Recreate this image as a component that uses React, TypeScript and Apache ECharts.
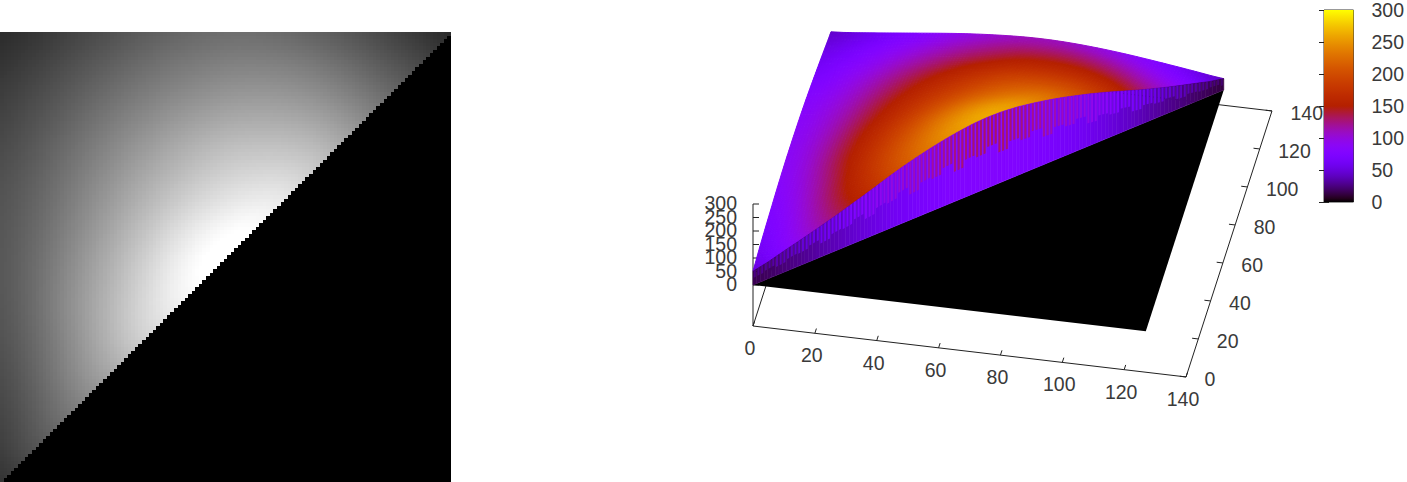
import React, { useEffect, useRef } from "react";
import * as echarts from "echarts";

// Grey level at knots every 1/16 of the data range.
// rowJ[i] is the value at column i of row J (i <= J); the half below the diagonal is 0.
const row0 = [48];
const row1 = [58, 80];
const row2 = [65, 85, 108];
const row3 = [70, 90, 115, 138];
const row4 = [75, 95, 122, 150, 172];
const row5 = [80, 99, 125, 155, 184, 210];
const row6 = [83, 102, 130, 158, 187, 214, 238];
const row7 = [85, 103, 129, 156, 183, 211, 238, 258];
const row8 = [85, 102, 125, 151, 177, 203, 231, 253, 268];
const row9 = [84, 99, 120, 143, 167, 191, 215, 237, 252, 260];
const row10 = [82, 96, 114, 136, 157, 178, 197, 215, 228, 236, 238];
const row11 = [78, 91, 108, 127, 146, 165, 181, 196, 208, 214, 215, 208];
const row12 = [72, 85, 101, 118, 135, 151, 166, 179, 189, 192, 192, 187, 174];
const row13 = [65, 78, 91, 107, 122, 135, 148, 158, 166, 169, 168, 163, 152, 135];
const row14 = [58, 70, 82, 95, 108, 120, 130, 138, 145, 147, 146, 140, 130, 115, 100];
const row15 = [50, 60, 71, 83, 94, 105, 114, 121, 126, 127, 125, 119, 109, 96, 82, 70];
const row16 = [42, 50, 60, 70, 80, 90, 98, 104, 108, 108, 104, 97, 88, 77, 65, 52, 38];
const knotRows = [row0, row1, row2, row3, row4, row5, row6, row7, row8, row9, row10, row11, row12, row13, row14, row15, row16];

const xTicks = [0, 20, 40, 60, 80, 100, 120, 140];
const yTicks = [0, 20, 40, 60, 80, 100, 120, 140];
const zTicks = [0, 50, 100, 150, 200, 250, 300];
const stripeDepths = [0.5, 0.42, 0.56, 0.46];

const SIZE = 127;
const KNOT_STEP = SIZE / 16;
const FONT_SIZE = 19.5;
const FONT_FAMILY = '"Liberation Sans", Arial, sans-serif';
const FONT = `${FONT_SIZE}px ${FONT_FAMILY}`;
const INK = "#3a3a3a";

const knot = (i: number, j: number) => knotRows[j][i];

function linearAt(x: number, y: number) {
  const a = Math.min(x / KNOT_STEP, 16);
  const b = Math.min(y / KNOT_STEP, 16);
  const i = Math.min(Math.floor(a), 15);
  const j = Math.min(Math.floor(b), 15);
  const fa = a - i;
  const fb = b - j;
  if (i === j) {
    const f = Math.max(fb, fa);
    const g = Math.min(fa, fb);
    return knot(i, i) * (1 - f) + knot(i, i + 1) * (f - g) + knot(i + 1, i + 1) * g;
  }
  return (
    knot(i, j) * (1 - fa) * (1 - fb) +
    knot(i + 1, j) * fa * (1 - fb) +
    knot(i, j + 1) * (1 - fa) * fb +
    knot(i + 1, j + 1) * fa * fb
  );
}

// Surface shading between the knots: a small tent blur that hides the creases of the mesh.
const blurWeights = [1, 2, 1];
const shadeCache = new Map<number, number>();
function valueAt(x: number, y: number) {
  const key = Math.round(x * 4) * 100000 + Math.round(y * 4);
  const hit = shadeCache.get(key);
  if (hit !== undefined) return hit;
  const reach = KNOT_STEP * 0.5;
  let sum = 0;
  let weight = 0;
  for (let p = -1; p <= 1; p++) {
    for (let q = -1; q <= 1; q++) {
      let sx = Math.min(SIZE, Math.max(0, x + p * reach));
      let sy = Math.min(SIZE, Math.max(0, y + q * reach));
      if (sx > sy) [sx, sy] = [sy, sx];
      const w = blurWeights[p + 1] * blurWeights[q + 1];
      sum += linearAt(sx, sy) * w;
      weight += w;
    }
  }
  const v = sum / weight;
  shadeCache.set(key, v);
  return v;
}

function palette(v: number) {
  const g = Math.max(0, Math.min(1, v / 300));
  const r = Math.round(255 * Math.sqrt(g));
  const gr = Math.round(255 * g * g * g);
  const b = Math.round(255 * Math.max(0, Math.sin(2 * Math.PI * g)));
  return `rgb(${r},${gr},${b})`;
}

// gnuplot's oblique 3D view
const project = (x: number, y: number, z: number): [number, number] => [
  753 + 3.093 * x + 0.614 * y,
  285 + 0.364 * x - 1.9 * y - 0.27 * z,
];
const projectBase = (x: number, y: number): [number, number] => {
  const p = project(x, y, 0);
  return [p[0], p[1] + 41];
};

const line = (a: [number, number], b: [number, number]) => ({
  type: "line",
  shape: { x1: a[0], y1: a[1], x2: b[0], y2: b[1] },
  style: { stroke: "#222", lineWidth: 1 },
});
const label = (text: string, x: number, y: number, align: string) => ({
  type: "text",
  style: { text, x, y, font: FONT, fill: INK, align, verticalAlign: "middle" },
});

function axesGroup() {
  const children: any[] = [];
  children.push(line([753, 326], [753, project(0, 0, 300)[1]]));
  children.push(line(projectBase(0, 0), projectBase(140, 0)));
  children.push(line(projectBase(140, 0), projectBase(140, 140)));
  children.push(line(projectBase(0, 0), projectBase(0, 140)));
  children.push(line(projectBase(0, 140), projectBase(140, 140)));
  zTicks.forEach((z) => {
    const p = project(0, 0, z);
    children.push(line([753, p[1]], [759, p[1]]));
    children.push(label(String(z), 737, p[1] - 1, "right"));
  });
  xTicks.forEach((x) => {
    const p = projectBase(x, 0);
    children.push(line(p, projectBase(x, 2.5)));
    children.push(label(String(x), p[0] - 3, p[1] + 22, "center"));
  });
  yTicks.forEach((y) => {
    const p = projectBase(140, y);
    children.push(line(p, projectBase(138, y)));
    children.push(label(String(y), p[0] + 18.5, p[1] + 2, "left"));
  });
  return { type: "group", children };
}

function poly(points: [number, number][], fill: string, stroke = 1) {
  return {
    type: "polygon",
    shape: { points },
    style: { fill, stroke: stroke ? fill : "none", lineWidth: stroke },
  };
}

// Marks of the 3D panel, far to near.
type Mark = { kind: string; i: number; j: number };
const surfaceMarks: Mark[] = [{ kind: "axes", i: 0, j: 0 }, { kind: "floor", i: 0, j: 0 }];
for (let j = SIZE - 1; j >= 0; j--) {
  for (let i = 0; i <= j; i++) surfaceMarks.push({ kind: i === j ? "tip" : "cell", i, j });
}
for (let k = 0; k < SIZE; k++) surfaceMarks.push({ kind: "wall", i: k, j: k });
for (let k = 0; k < SIZE; k++) surfaceMarks.push({ kind: "stripe", i: k, j: k });

function renderSurface(params: any) {
  const m = surfaceMarks[params.dataIndex];
  const { i, j } = m;
  const at = (x: number, y: number) => project(x, y, valueAt(x, y));
  if (m.kind === "axes") return axesGroup();
  if (m.kind === "floor")
    return poly([project(0, 0, 0), project(SIZE, 0, 0), project(SIZE, SIZE, 0)], "#000", 0);
  if (m.kind === "cell") {
    return poly([at(i, j), at(i + 1, j), at(i + 1, j + 1), at(i, j + 1)], palette(valueAt(i + 0.5, j + 0.5)));
  }
  if (m.kind === "tip") {
    return poly([at(i, j), at(i + 1, j + 1), at(i, j + 1)], palette(valueAt(i + 0.25, j + 0.75)));
  }
  const v0 = valueAt(i, i);
  const v1 = valueAt(i + 1, i + 1);
  if (m.kind === "wall") {
    return poly(
      [project(i, i, v0), project(i + 1, i + 1, v1), project(i + 1, i + 1, 0), project(i, i, 0)],
      palette(((v0 + v1) / 2) * 0.3),
      0.6
    );
  }
  const a = i + 0.2;
  const b = i + 0.75;
  const depth = stripeDepths[Math.floor(i / 3) % stripeDepths.length];
  const va = valueAt(i + 0.25, i + 0.25);
  const vb = valueAt(i + 0.75, i + 0.75);
  return poly(
    [project(a, a, va), project(b, b, vb), project(b, b, vb * (1 - depth)), project(a, a, va * (1 - depth))],
    palette(((va + vb) / 2) * 0.5),
    0
  );
}

// Cells of the flat picture.
const imageCells: number[][] = [];
for (let j = 0; j < SIZE; j++) {
  for (let i = 0; i <= j; i++) imageCells.push([i, j, valueAt(i + 0.5, j + 0.5)]);
}

function renderImageCell(_: any, api: any) {
  const i = api.value(0);
  const j = api.value(1);
  const v = Math.min(255, Math.round(api.value(2)));
  const p = api.coord([i, j + 1]);
  const q = api.coord([i + 1, j]);
  const x0 = Math.round(p[0]);
  const y0 = Math.round(p[1]);
  return {
    type: "rect",
    shape: { x: x0, y: y0, width: Math.round(q[0]) - x0, height: Math.round(q[1]) - y0 },
    style: { fill: `rgb(${v},${v},${v})` },
  };
}

const barStops = Array.from({ length: 61 }, (_, k) => ({
  offset: k / 60,
  color: palette(300 - k * 5),
}));

function renderBar(_: any, api: any) {
  const p = api.coord([0, 300]);
  const q = api.coord([1, 0]);
  return {
    type: "rect",
    shape: { x: p[0], y: p[1], width: q[0] - p[0], height: q[1] - p[1] },
    style: { fill: new echarts.graphic.LinearGradient(0, 0, 0, 1, barStops) },
  };
}

export default function App() {
  const ref = useRef<HTMLDivElement>(null);
  useEffect(() => {
    document.body.style.margin = "0";
    const chart = echarts.init(ref.current!, null, { renderer: "svg" });
    const hiddenX = { type: "value", show: false, min: 0, max: 1 };
    chart.setOption({
      animation: false,
      backgroundColor: "#fff",
      grid: [
        { left: 0, top: 32, width: 451, height: 450, show: true, backgroundColor: "#000", borderWidth: 0 },
        { left: 1324, top: 10, width: 31, height: 192, show: true, borderColor: "#333", borderWidth: 1 },
      ],
      xAxis: [
        { type: "value", show: false, gridIndex: 0, min: 0, max: SIZE },
        { ...hiddenX, gridIndex: 1 },
      ],
      yAxis: [
        { type: "value", show: false, gridIndex: 0, min: 0, max: SIZE },
        {
          type: "value",
          gridIndex: 1,
          position: "right",
          min: 0,
          max: 300,
          interval: 50,
          splitLine: { show: false },
          axisLine: { show: false },
          axisTick: { show: true, inside: true, length: 5, lineStyle: { color: "#222" } },
          axisLabel: {
            margin: 18,
            color: INK,
            fontSize: FONT_SIZE,
            fontFamily: FONT_FAMILY,
            padding: [0, 0, 4, 0],
            showMinLabel: true,
            showMaxLabel: true,
          },
        },
        {
          type: "value",
          gridIndex: 1,
          position: "left",
          min: 0,
          max: 300,
          interval: 50,
          splitLine: { show: false },
          axisLine: { show: false },
          axisTick: { show: true, inside: true, length: 5, lineStyle: { color: "#222" } },
          axisLabel: { show: false },
        },
      ],
      series: [
        {
          type: "custom",
          coordinateSystem: "cartesian2d",
          xAxisIndex: 0,
          yAxisIndex: 0,
          data: imageCells,
          encode: { x: 0, y: 1 },
          renderItem: renderImageCell,
          silent: true,
          clip: false,
          progressive: 0,
        },
        {
          type: "custom",
          coordinateSystem: "cartesian2d",
          xAxisIndex: 1,
          yAxisIndex: 1,
          data: [[0, 0]],
          renderItem: renderBar,
          silent: true,
          z: 1,
        },
        {
          type: "custom",
          coordinateSystem: "none",
          data: surfaceMarks.map((_, k) => [k]),
          renderItem: renderSurface,
          silent: true,
          progressive: 0,
        },
      ],
    });
    return () => chart.dispose();
  }, []);
  return <div ref={ref} style={{ position: "fixed", left: 0, top: 0, width: 1407, height: 482 }} />;
}
